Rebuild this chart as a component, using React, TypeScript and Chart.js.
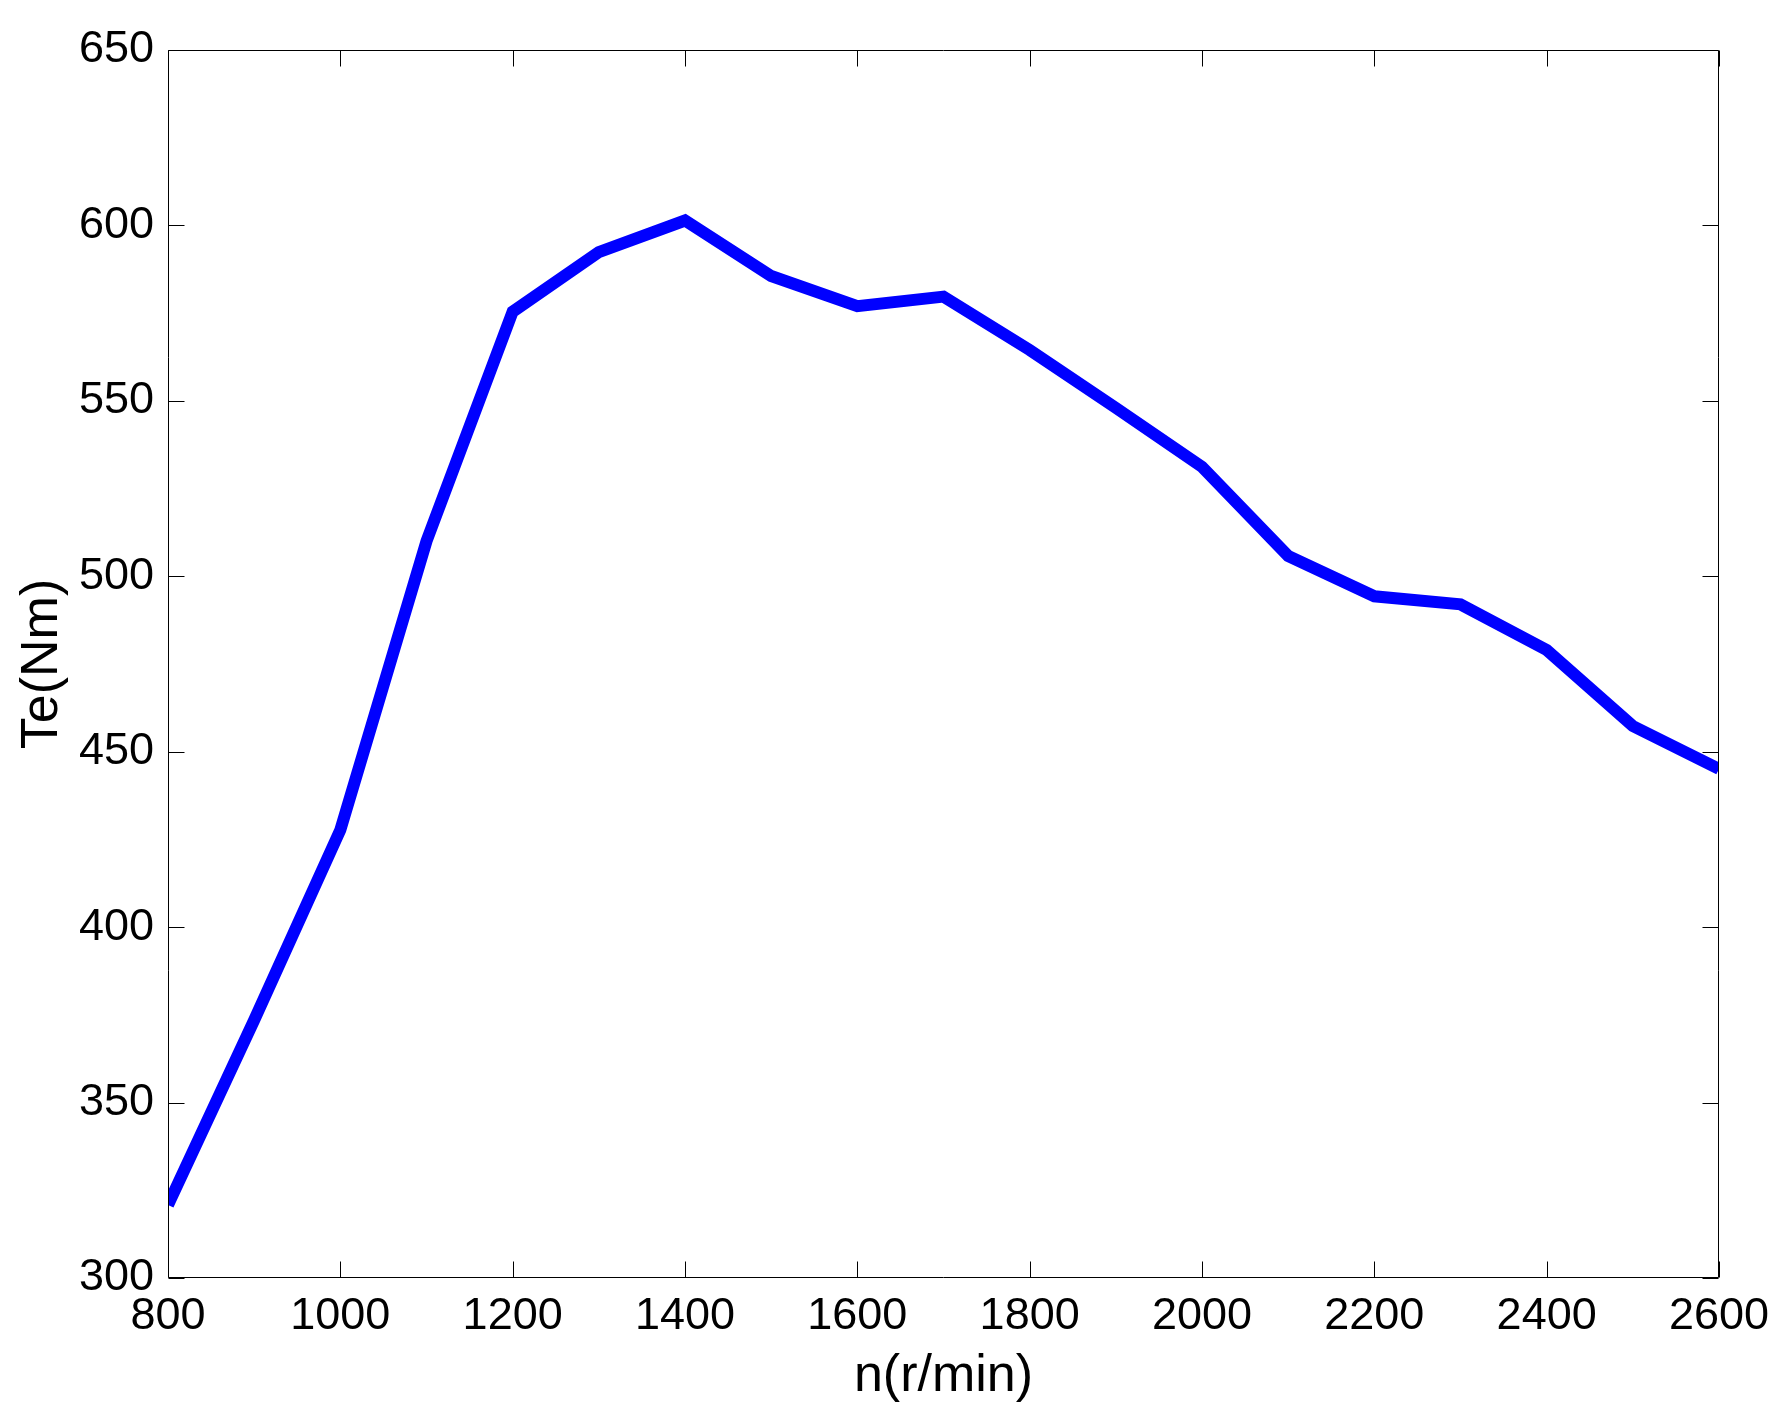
import React, { useEffect, useRef } from "react";
import { Chart, registerables } from "chart.js";

Chart.register(...registerables);

const speeds = [800, 900, 1000, 1100, 1200, 1300, 1400, 1500, 1600, 1700, 1800, 1900, 2000, 2100, 2200, 2300, 2400, 2500, 2600];
const torque = [320.8, 373.5, 427.7, 510, 575.4, 592.4, 601.4, 585.6, 577.0, 579.7, 564.5, 548.0, 531.2, 505.8, 494.3, 492.0, 479.0, 457.3, 445.1];
const xTicks = [800, 1000, 1200, 1400, 1600, 1800, 2000, 2200, 2400, 2600];
const yTicks = [300, 350, 400, 450, 500, 550, 600, 650];
const xTitle = "n(r/min)";
const yTitle = "Te(Nm)";

const FONT = "'Liberation Sans', Arial, sans-serif";
const TICK_LEN = 16;

const framePlugin = {
  id: "matlabFrame",
  afterDatasetsDraw(chart: any) {
    const { ctx, chartArea, scales } = chart;
    const { left, right, top, bottom } = chartArea;
    const x = scales.x;
    const y = scales.y;
    ctx.save();
    ctx.strokeStyle = "#000";
    ctx.lineWidth = 1;
    const L = Math.round(left) + 0.5;
    const R = Math.round(right) - 0.5;
    const T = Math.round(top) + 0.5;
    const B = Math.round(bottom) - 0.5;
    ctx.beginPath();
    ctx.rect(L, T, R - L, B - T);
    ctx.stroke();
    ctx.beginPath();
    xTicks.forEach((v) => {
      const px = Math.round(x.getPixelForValue(v)) + 0.5;
      ctx.moveTo(px, B);
      ctx.lineTo(px, B - TICK_LEN);
      ctx.moveTo(px, T);
      ctx.lineTo(px, T + TICK_LEN);
    });
    yTicks.forEach((v) => {
      const py = Math.round(y.getPixelForValue(v)) + 0.5;
      ctx.moveTo(L, py);
      ctx.lineTo(L + TICK_LEN, py);
      ctx.moveTo(R, py);
      ctx.lineTo(R - TICK_LEN, py);
    });
    ctx.stroke();
    ctx.restore();
  },
};

export default function App() {
  const canvasRef = useRef<HTMLCanvasElement | null>(null);

  useEffect(() => {
    document.body.style.margin = "0";
    const canvas = canvasRef.current;
    if (!canvas) return;
    const chart = new Chart(canvas, {
      type: "line",
      data: {
        datasets: [
          {
            data: speeds.map((s, i) => ({ x: s, y: torque[i] })),
            borderColor: "#0000FF",
            borderWidth: 12,
            pointRadius: 0,
            tension: 0,
            fill: false,
            clip: 0,
            borderJoinStyle: "miter",
          } as any,
        ],
      },
      options: {
        responsive: false,
        animation: false,
        devicePixelRatio: 1,
        layout: { padding: { top: 50, right: 65, left: 0, bottom: 0 } },
        plugins: {
          legend: { display: false },
          tooltip: { enabled: false },
        },
        scales: {
          x: {
            type: "linear",
            min: 800,
            max: 2600,
            afterBuildTicks: (scale: any) => {
              scale.ticks = xTicks.map((v) => ({ value: v }));
            },
            afterFit: (scale: any) => {
              scale.height = 147;
            },
            grid: { display: false, drawTicks: false },
            border: { display: false },
            ticks: {
              color: "#000",
              padding: 12,
              maxRotation: 0,
              autoSkip: false,
              font: { family: FONT, size: 45 },
              callback: (v: any) => String(v),
            },
            title: {
              display: true,
              text: xTitle,
              color: "#000",
              padding: { top: 0, bottom: 17 },
              font: { family: FONT, size: 52 },
            },
          },
          y: {
            type: "linear",
            min: 300,
            max: 650,
            afterBuildTicks: (scale: any) => {
              scale.ticks = yTicks.map((v) => ({ value: v }));
            },
            afterFit: (scale: any) => {
              scale.width = 168;
            },
            grid: { display: false, drawTicks: false },
            border: { display: false },
            ticks: {
              color: "#000",
              padding: 14,
              autoSkip: false,
              font: { family: FONT, size: 45 },
              callback: (v: any) => String(v),
            },
            title: {
              display: true,
              text: yTitle,
              color: "#000",
              padding: { top: 11, bottom: 0 },
              font: { family: FONT, size: 52 },
            },
          },
        },
      },
      plugins: [framePlugin],
    });
    return () => chart.destroy();
  }, []);

  return (
    <canvas
      ref={canvasRef}
      width={1784}
      height={1425}
      style={{ display: "block", width: "1784px", height: "1425px" }}
    />
  );
}
